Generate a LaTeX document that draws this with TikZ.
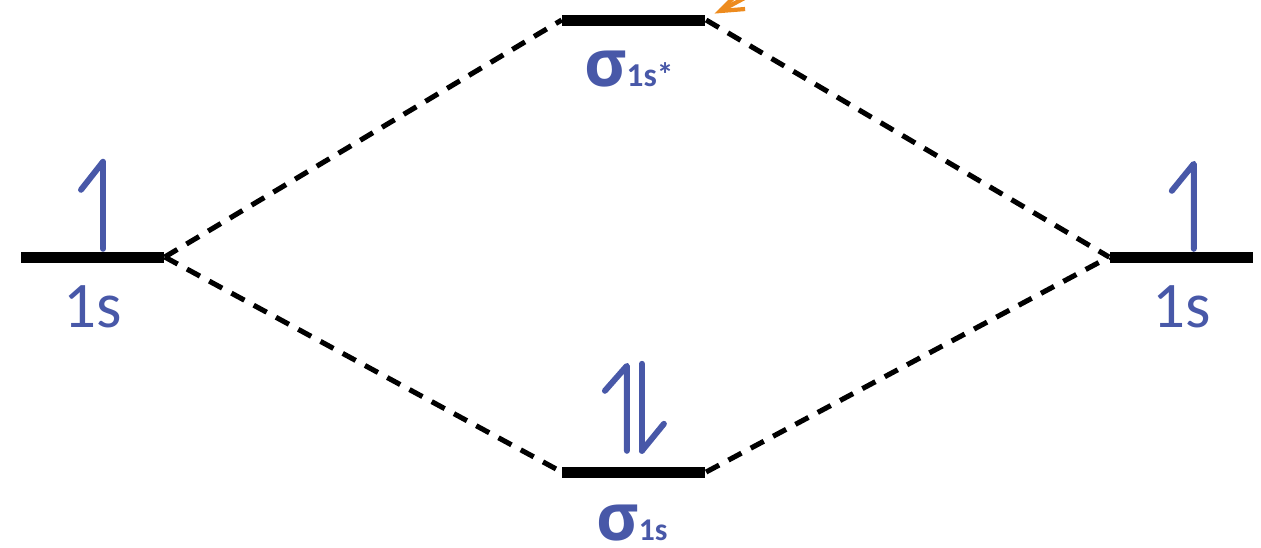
\documentclass[tikz,border=0pt]{standalone}
\usepackage{fontspec}
\setmainfont{Open Sans}
\newfontfamily\calfont{Carlito}
\definecolor{orbblue}{RGB}{72, 88, 168}
\definecolor{tiporange}{RGB}{237, 139, 30}
\usetikzlibrary{positioning, calc}

\begin{document}
\begin{tikzpicture}[
    level/.style={fill=black, inner sep=0pt, minimum width=1.43cm, minimum height=0.11cm},
    link/.style={black, line width=1.45pt, dash pattern=on 4.2pt off 3pt},
    spin/.style={orbblue, line width=1.7pt, line cap=round, line join=round},
    orblabel/.style={orbblue, inner sep=0pt, font=\calfont\fontsize{18.5}{22}\selectfont},
    moname/.style={orbblue, inner sep=0pt, font=\fontsize{18.5}{22}\selectfont\bfseries}
  ]
    \useasboundingbox (0,0) rectangle (12.61,5.47);

    % energy levels
    \node[level] (atomL) at (0.925,2.90) {};
    \node[level, right=3.97cm of atomL, yshift=2.37cm] (antibond) {};
    \node[level, right=3.97cm of atomL, yshift=-2.15cm] (bond) {};
    \node[level, right=4.03cm of bond, yshift=2.15cm] (atomR) {};

    % labels
    \node[orblabel, below=0.22cm of atomL] (labelL) {1s};
    \node[orblabel, below=0.22cm of atomR] (labelR) {1s};
    \node[moname, below=0.24cm of antibond, xshift=-0.05cm] (nameStar)
      {σ{\calfont\fontsize{9.5}{11}\selectfont\bfseries 1s*}};
    \node[moname, below=0.26cm of bond, xshift=-0.02cm] (nameBond)
      {σ{\calfont\fontsize{9}{11}\selectfont\bfseries 1s}};

    % dashed correlation lines
    \draw[link] (atomL.east) -- (antibond.west);
    \draw[link] (antibond.east) -- (atomR.west);
    \draw[link] (atomL.east) -- (bond.west);
    \draw[link] (bond.east) -- (atomR.west);

    % electrons
    \draw[spin] ([xshift=0.105cm, yshift=0.02cm]atomL.north)
      -- ++(0,0.87) -- ++(-0.22,-0.28);
    \draw[spin] ([xshift=0.125cm, yshift=0.02cm]atomR.north)
      -- ++(0,0.85) -- ++(-0.22,-0.27);
    \draw[spin] ([xshift=-0.07cm, yshift=0.15cm]bond.north)
      -- ++(0,0.85) -- ++(-0.22,-0.25);
    \draw[spin] ([xshift=0.08cm, yshift=0.15cm]bond.north)
      -- ++(0,0.87);
    \draw[spin] ([xshift=0.08cm, yshift=0.15cm]bond.north)
      -- ++(0.22,0.27);

    % cut off arrow at the top edge
    \begin{scope}
      \clip (0,0) rectangle (12.61,5.47);
      \coordinate (tipEnd) at ($(antibond.east)+(0.14,0.09)$);
      \draw[tiporange, line width=1.2pt, line join=miter]
        ($(tipEnd)+(0.25,0.02)$) -- (tipEnd) -- ($(tipEnd)+(0.14,0.14)$);
      \draw[tiporange, line width=1.2pt] (tipEnd) -- ($(tipEnd)+(0.3,0.16)$);
    \end{scope}
  \end{tikzpicture}
\end{document}
